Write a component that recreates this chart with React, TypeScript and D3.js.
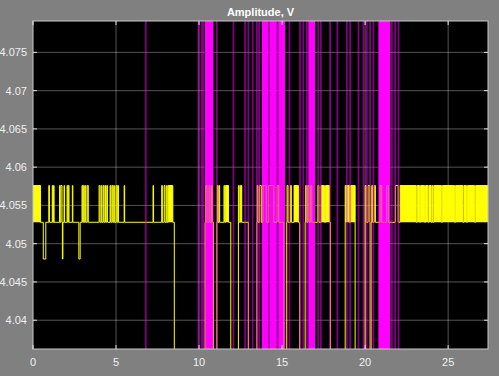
import React from 'react';
import * as d3 from 'd3';

// ---- axes ----
const xTicks = [0, 5, 10, 15, 20, 25];
const yTicks = [4.04, 4.045, 4.05, 4.055, 4.06, 4.065, 4.07, 4.075];
const xDomain = [0, 27.4];
const yDomain = [4.03624, 4.0791];
const title = 'Amplitude, V';

// ---- yellow signal levels (V) ----
const yellowLow = 4.0528;
const yellowHigh = 4.0576;
const yellowDip = 4.048;
const yellowOff = 4.02; // below the visible range

// windows (s) where the yellow trace is within the visible band
const yellowOnWindows: [number, number][] = [
  [0, 8.51], [10.36, 10.86], [11.07, 11.91], [12.37, 12.97], [13.48, 15.1],
  [15.28, 16.06], [16.39, 17.91], [18.8, 19.4], [20.0, 20.3], [20.36, 27.45],
];
// intervals at the high level
const yellowHighPulses: [number, number][] = [
  [0.95, 0.99], [1.16, 1.19], [1.24, 1.27], [1.6, 1.63], [1.68, 1.75], [1.87, 1.9],
  [2.05, 2.09], [2.13, 2.17], [2.37, 2.4], [2.95, 2.99], [3.05, 3.09], [3.15, 3.19],
  [3.27, 3.33], [3.98, 4.03], [4.1, 4.14], [4.22, 4.26], [4.33, 4.37], [4.44, 4.49],
  [4.64, 4.68], [4.75, 4.8], [4.86, 4.9], [5.0, 5.05], [5.1, 5.15], [5.49, 5.52],
  [7.23, 7.26], [7.75, 7.79], [7.9, 7.95], [8.05, 8.08],
  [10.4, 10.48], [10.6, 10.66], [10.75, 10.8],
  [11.1, 11.14], [11.2, 11.24], [11.5, 11.54],
  [12.37, 12.42],
  [13.5, 13.55], [13.65, 13.75], [13.85, 14.05], [14.2, 14.5], [14.7, 14.8],
  [15.3, 15.36], [15.5, 15.56],
  [16.42, 16.48], [16.55, 16.62], [16.72, 16.79], [17.15, 17.22],
  [20.0, 20.06], [20.18, 20.28],
  [20.4, 20.45], [20.55, 20.62], [20.9, 21.0], [21.3, 21.4], [21.82, 21.99],
];
// short dips to the lower step
const yellowDips: [number, number][] = [[0.62, 0.77], [1.77, 1.8], [2.76, 2.84]];
// regions of very dense toggling between low and high
const yellowDenseBlocks: [number, number][] = [
  [0, 0.45], [8.14, 8.42],
  [11.6, 11.77], [12.5, 12.57], [15.72, 15.98], [17.35, 17.55], [17.62, 17.85],
  [18.8, 19.05], [19.12, 19.4],
  [22.11, 23.08], [23.14, 23.28], [23.34, 23.58], [23.64, 23.78], [23.84, 23.98],
  [24.04, 24.08], [24.14, 24.59], [24.65, 25.39], [25.45, 25.89], [25.95, 26.1],
  [26.16, 26.6], [26.66, 27.45],
];

// ---- magenta signal: jumps between off-scale values ----
const magentaEdges = [
  6.79, 9.96, 10.16, 10.26, 11.07, 12.07, 12.77, 12.97, 13.23, 13.48, 13.62,
  14.2, 14.72, 15.44, 16.08, 16.28, 16.49, 17.17, 17.33, 17.89, 18.33,
  18.9, 19.1, 19.6, 19.9, 20.1, 20.3, 20.5, 21.61, 21.81, 22.01,
];
const magentaDenseBlocks: [number, number][] = [
  [10.36, 10.86], [13.78, 14.17], [14.24, 14.68], [14.77, 15.18], [16.58, 16.99], [20.8, 21.51],
];
const magentaHigh = 4.2;
const magentaLow = 3.9;

const W = 499;
const H = 376;
const left = 33;
const right = 488;
const top = 21;
const bottom = 349;

const inAny = (t: number, arr: [number, number][]) => arr.some(([a, b]) => t >= a && t < b);

export default function App() {
  const x = d3.scaleLinear().domain(xDomain).range([left, right]);
  const y = d3.scaleLinear().domain(yDomain).range([bottom, top]);

  const breaks = Array.from(
    new Set<number>([
      0,
      ...yellowOnWindows.flat(),
      ...yellowHighPulses.flat(),
      ...yellowDips.flat(),
      ...yellowDenseBlocks.flat(),
    ])
  ).sort((a, b) => a - b);
  const levelAt = (t: number) => {
    if (!inAny(t, yellowOnWindows)) return yellowOff;
    if (inAny(t, yellowDips)) return yellowDip;
    if (inAny(t, yellowHighPulses) || inAny(t, yellowDenseBlocks)) return yellowHigh;
    return yellowLow;
  };
  const yellowPts: [number, number][] = breaks.map((t) => [t, levelAt(t + 1e-6)]);

  const magentaPts: [number, number][] = [[0, magentaLow]];
  magentaEdges.forEach((t, i) => magentaPts.push([t, i % 2 === 0 ? magentaHigh : magentaLow]));
  magentaPts.push([27.5, magentaEdges.length % 2 === 0 ? magentaLow : magentaHigh]);

  const step = d3
    .line<[number, number]>()
    .x((d) => x(d[0]))
    .y((d) => y(d[1]))
    .curve(d3.curveStepAfter);

  const yellowPath = step(yellowPts) || '';
  const magentaPath = step(magentaPts) || '';

  const yellowLayer = (
    <g>
      {yellowDenseBlocks.map(([a, b], i) => (
        <rect key={i} x={x(a)} y={y(yellowHigh)} width={x(b) - x(a)} height={y(yellowLow) - y(yellowHigh)} fill="#ffff00" />
      ))}
      <path d={yellowPath} fill="none" stroke="#ffff00" strokeWidth={1} />
    </g>
  );

  const font = 'Liberation Sans, Arial, Helvetica, sans-serif';

  return (
    <svg width={W} height={H} style={{ position: 'absolute', left: 0, top: 0, background: '#808080' }}>
      <defs>
        <clipPath id="plotClip">
          <rect x={left} y={top} width={right - left} height={bottom - top} />
        </clipPath>
        <clipPath id="blockClip">
          {magentaDenseBlocks.map(([a, b], i) => (
            <rect key={i} x={x(a)} y={top} width={x(b) - x(a)} height={bottom - top} />
          ))}
        </clipPath>
      </defs>
      <rect x={0} y={0} width={W} height={H} fill="#808080" />
      <rect x={left} y={top} width={right - left} height={bottom - top} fill="#000000" />
      <g stroke="#ffffff" strokeOpacity={0.33} strokeWidth={1}>
        {xTicks.filter((t) => t > 0).map((t) => (
          <line key={t} x1={x(t)} x2={x(t)} y1={top} y2={bottom} />
        ))}
        {yTicks.map((t) => (
          <line key={t} x1={left} x2={right} y1={y(t)} y2={y(t)} />
        ))}
      </g>
      <g clipPath="url(#plotClip)">
        {yellowLayer}
        <path d={magentaPath} fill="none" stroke="#ff00ff" strokeWidth={1.8} strokeOpacity={0.5} />
        {magentaDenseBlocks.map(([a, b], i) => (
          <rect key={i} x={x(a)} y={top} width={x(b) - x(a)} height={bottom - top} fill="#ff00ff" />
        ))}
        <g clipPath="url(#blockClip)" opacity={0.4}>
          {yellowLayer}
        </g>
      </g>
      <rect x={left} y={top} width={right - left} height={bottom - top} fill="none" stroke="#c8c8c8" strokeWidth={1} />
      <g stroke="#e0e0e0" strokeWidth={1}>
        {xTicks.map((t) => (
          <g key={t}>
            <line x1={x(t)} x2={x(t)} y1={bottom} y2={bottom - 4} />
            <line x1={x(t)} x2={x(t)} y1={top} y2={top + 4} />
          </g>
        ))}
        {yTicks.map((t) => (
          <g key={t}>
            <line x1={left} x2={left + 4} y1={y(t)} y2={y(t)} />
            <line x1={right} x2={right - 4} y1={y(t)} y2={y(t)} />
          </g>
        ))}
      </g>
      <g fill="#f0f0f0" fontFamily={font} fontSize={11}>
        {xTicks.map((t) => (
          <text key={t} x={x(t)} y={366} textAnchor="middle">{t}</text>
        ))}
        {yTicks.map((t) => (
          <text key={t} x={27} y={y(t) + 4} textAnchor="end">{String(t)}</text>
        ))}
      </g>
      <text x={(left + right) / 2} y={16} textAnchor="middle" fill="#ffffff" fontFamily={font} fontSize={11} fontWeight="bold">
        {title}
      </text>
    </svg>
  );
}
